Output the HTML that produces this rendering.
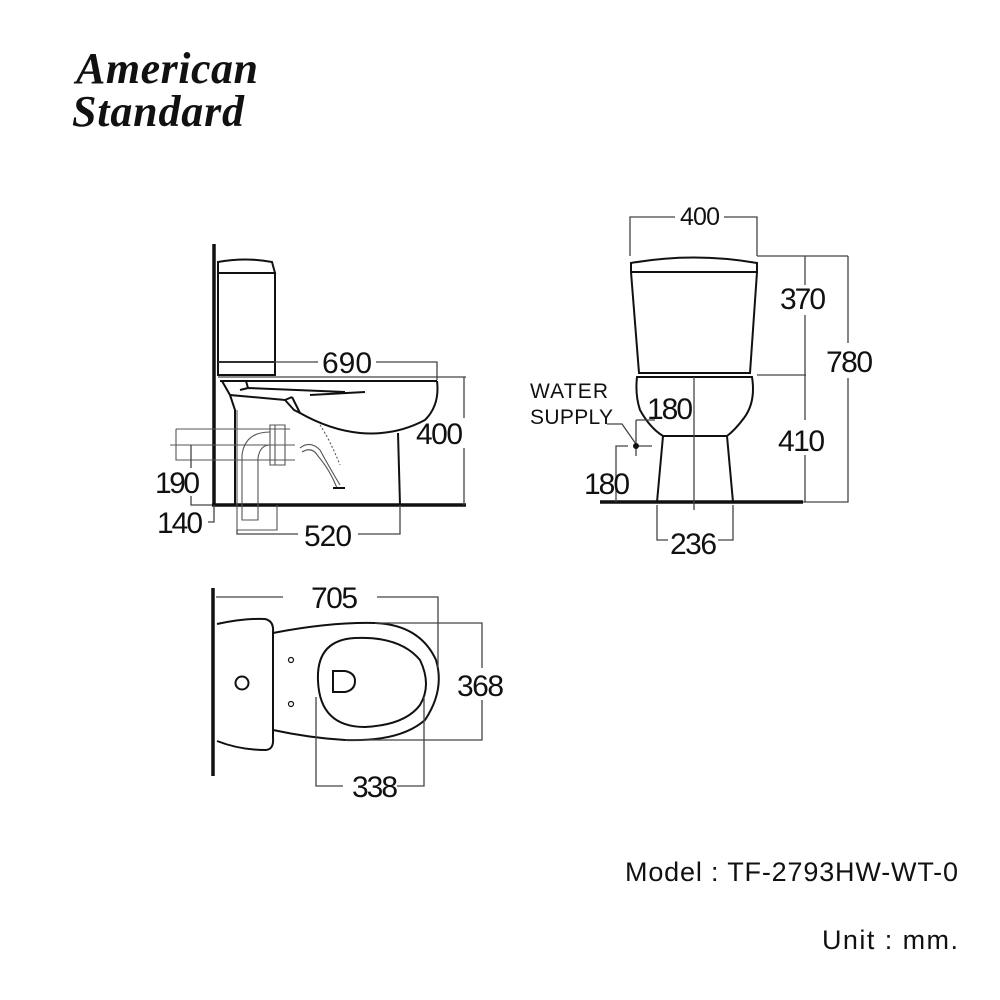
<!DOCTYPE html>
<html><head><meta charset="utf-8"><style>
html,body{margin:0;padding:0;background:#fff;}
svg{display:block}
text{font-family:"Liberation Sans",Arial,sans-serif;fill:#111}
</style></head><body>
<svg width="1000" height="1000" viewBox="0 0 1000 1000" xmlns="http://www.w3.org/2000/svg">
<rect width="1000" height="1000" fill="#fff"/>
<text x="76" y="83" font-style="italic" font-weight="bold" font-size="44" textLength="182" style="font-family:'Liberation Serif',serif">American</text>
<text x="72" y="126" font-style="italic" font-weight="bold" font-size="44" textLength="172" style="font-family:'Liberation Serif',serif">Standard</text>

<g fill="none" stroke="#111" stroke-width="2">
<line x1="214" y1="244" x2="214" y2="506" stroke-width="3.5"/>
<line x1="212" y1="505" x2="466" y2="505" stroke-width="3.5"/>
<path d="M218 273 L218 262 Q246 257 272 262 L275 273 Z"/>
<path d="M218 273 L275 273 L275 375 L218 375 Z"/>
<line x1="218" y1="362" x2="275" y2="362"/>
<path d="M218 377 L466 377" stroke="#444" stroke-width="1.3"/>
<path d="M220 381 L437 381"/>
<path d="M246 381 L248 388 L345 392 M248 388 L240 390"/>
<path d="M222 381 L230 395 L285 400 L292 397"/>
<path d="M230 395 L235 410 L235 505 M285 400 L294 410 L300 413"/>
<path d="M292 397 L300 413 Q330 430 360 433 Q395 436 425 420 Q440 405 437 381"/>
<path d="M398 433 L400 505"/>
<path d="M310 395 L365 392"/>
<g stroke="#555" stroke-width="1.1">
<path d="M176 429 L290 429 M176 429 L176 460 L295 460 M170 445 L295 445"/>
<path d="M270 425 L285 425 L285 465 L270 465 Z M275 425 L275 465"/>
<path d="M270 432 Q245 432 242 455 L242 520 L258 520 L258 458 Q260 445 270 445"/>
<path d="M300 448 Q310 440 320 450 Q328 465 340 485 M302 452 Q312 446 318 456 Q330 470 337 488"/>
<path d="M320 425 Q330 440 340 465" stroke-dasharray="2 2"/>
<path d="M237 410 L237 530 L277 530 L277 505"/>
</g>
<path d="M333 488 L345 488" stroke-width="2"/>
<g stroke="#444" stroke-width="1.3">
<path d="M218 362 L318 362 M376 362 L437 362 L437 380"/>
<path d="M464 377 L464 418 M464 448 L464 505"/>
<path d="M191 445 L191 468 M191 496 L191 505 L212 505"/>
<path d="M214 505 L214 522 L208 522"/>
<path d="M237 530 L237 534 L298 534 M358 534 L400 534 L400 505"/>
</g>
</g>
<g font-size="30">
<text x="322" y="373" textLength="50">690</text>
<text x="416" y="444" textLength="47">400</text>
<text x="155" y="493" textLength="45">190</text>
<text x="157" y="533" textLength="46">140</text>
<text x="304" y="546" textLength="48">520</text>
</g>

<g fill="none" stroke="#111" stroke-width="2">
<path d="M631 272 L631 263 Q694 252 757 263 L757 272 Z"/>
<path d="M631 272 L757 272 L750 373 L639 373 Z"/>
<path d="M637 377 L752 377 Q756 402 744 418 Q735 430 727 436 L663 436 Q650 428 640 410 Q635 395 637 377 Z"/>
<path d="M663 436 L657 502 M727 436 L733 502"/>
<line x1="600" y1="502" x2="803" y2="502" stroke-width="3.5"/>
<g stroke="#444" stroke-width="1.3">
<path d="M694 377 L694 510"/>
<path d="M630 256 L630 217 L675 217 M724 217 L757 217 L757 256"/>
<path d="M757 256 L848 256 M757 375 L806 375"/>
<path d="M805 256 L805 285 M805 315 L805 420 M805 455 L805 502"/>
<path d="M848 256 L848 343 M848 378 L848 502 L803 502"/>
<path d="M657 505 L657 540 L668 540 M718 540 L733 540 L733 505"/>
<path d="M616 502 L616 446 L628 446 M636 420 L636 456 M638 446 L652 446"/>
<path d="M607 424 L622 424 L636 444"/>
<path d="M636 420 L655 420"/>
</g>
</g>
<circle cx="636" cy="446" r="3" fill="#111"/>
<g font-size="30">
<text x="680" y="225" font-size="25" textLength="40">400</text>
<text x="780" y="309" textLength="46">370</text>
<text x="826" y="372" textLength="47">780</text>
<text x="778" y="451" textLength="47">410</text>
<text x="647" y="419" textLength="46">180</text>
<text x="584" y="494" textLength="46">180</text>
<text x="670" y="554" textLength="47">236</text>
</g>
<text x="530" y="398" font-size="21" textLength="78">WATER</text>
<text x="530" y="424" font-size="21" textLength="83">SUPPLY</text>

<g fill="none" stroke="#111" stroke-width="2">
<line x1="213" y1="588" x2="213" y2="776" stroke-width="3.5"/>
<path d="M217 624 Q245 618 265 619 Q274 621 273 632 L273 738 Q274 750 265 750 Q240 750 217 741"/>
<path d="M273 633 Q330 622 375 623 Q420 625 436 660 Q445 690 425 720 Q400 742 345 740 Q310 738 273 730"/>
<path d="M318 681 Q316 640 355 638 Q400 636 420 660 Q432 685 420 705 Q405 725 365 727 Q320 727 318 681 Z"/>
<path d="M333 671 L345 671 Q355 673 355 681 Q355 690 345 692 L333 692 Z"/>
<circle cx="242" cy="683" r="6.5"/>
<circle cx="291" cy="660" r="2.5" stroke-width="1.2"/>
<circle cx="291" cy="704" r="2.5" stroke-width="1.2"/>
<g stroke="#444" stroke-width="1.3">
<path d="M216 597 L283 597 M377 597 L438 597 L438 668"/>
<path d="M375 623 L482 623 L482 668 M482 700 L482 740 L345 740"/>
<path d="M316 697 L316 786 L343 786 M397 786 L424 786 L424 697"/>
</g>
</g>
<g font-size="30">
<text x="311" y="608" textLength="47">705</text>
<text x="457" y="696" textLength="47">368</text>
<text x="352" y="797" textLength="46">338</text>
</g>

<text x="625" y="881" font-size="27" textLength="333">Model : TF-2793HW-WT-0</text>
<text x="822" y="949" font-size="27" textLength="136">Unit : mm.</text>
</svg>
</body></html>
